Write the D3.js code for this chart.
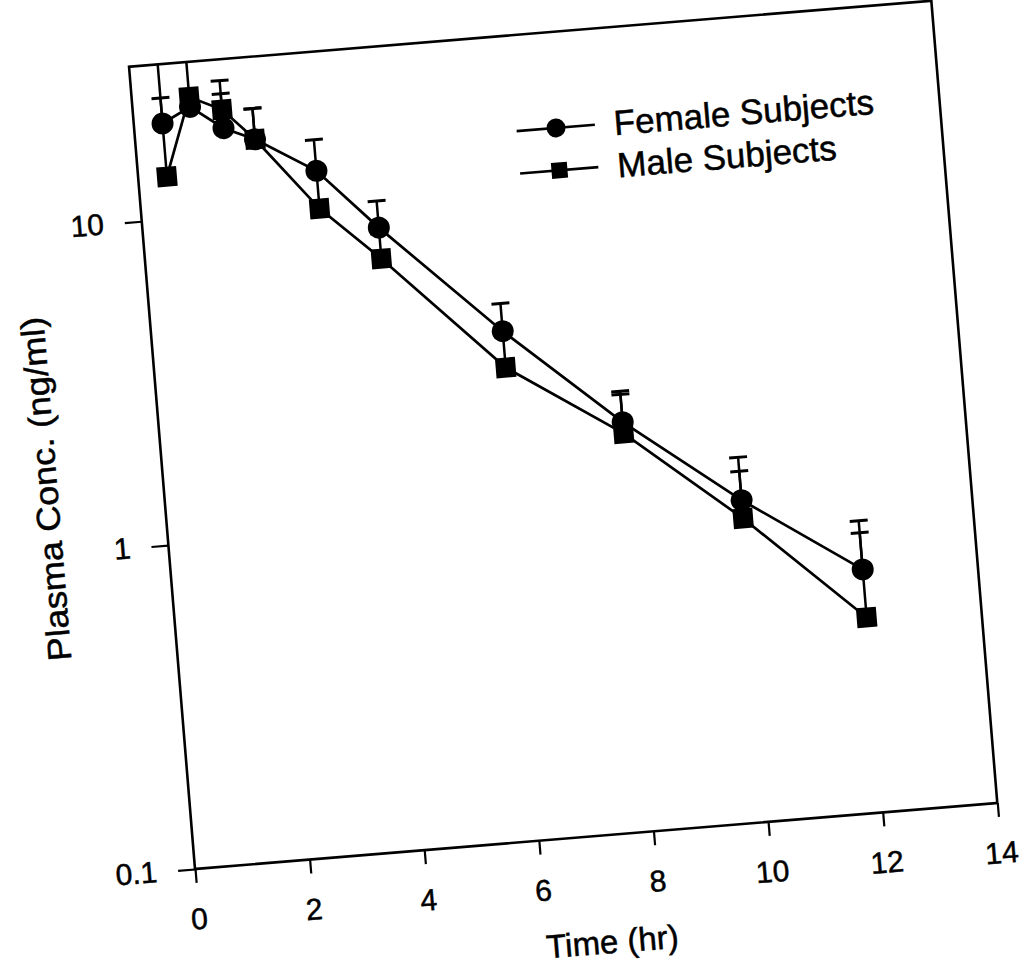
<!DOCTYPE html>
<html>
<head>
<meta charset="utf-8">
<script src="https://cdn.jsdelivr.net/npm/d3@7/dist/d3.min.js"></script>
<style>
  html, body { margin: 0; padding: 0; background: #fff; }
  svg { display: block; }
  text { font-family: "Liberation Sans", Arial, Helvetica, sans-serif; fill: #000; stroke: #000; stroke-width: 0.5px; }
</style>
</head>
<body>
<svg id="chart" width="1029" height="972"></svg>
<script>
// ---- data ----
const times       = [0.5, 1, 1.55, 2.08, 3.1, 4.1, 6.1, 8.05, 10, 12];
const female      = [19.7, 21.8, 18.4, 16.7, 12.9, 8.33, 3.73, 1.83, 0.985, 0.563];
const femaleUpper = [23.6, 23.4, 23.5, 20.8, 16.1, 10.07, 4.54, 2.28, 1.335, 0.795];
const male        = [13.5, 23.4, 21.0, 16.7, 9.86, 6.68, 2.88, 1.69, 0.865, 0.40];
const maleUpper   = [40, 40, 25.8, 20.8, 12.5, 8.0, 3.6, 2.23, 1.21, 0.73];
const xTicks      = [0, 2, 4, 6, 8, 10, 12, 14];
const yTicks      = [0.1, 1, 10];
const yTickLabels = ["0.1", "1", "10"];
const seriesNames = ["Female Subjects", "Male Subjects"];

// ---- layout ----
const W = 805, H = 805;
const svg = d3.select("#chart");
svg.append("rect").attr("width", 1029).attr("height", 972).attr("fill", "#fff");

const g = svg.append("g")
  .attr("transform", "translate(195,869) rotate(-4.7) translate(0,-805)");

const x = d3.scaleLinear().domain([0, 14]).range([0, W]);
const y = d3.scaleLog().domain([0.1, 30]).range([H, 0]);

g.append("clipPath").attr("id", "plotclip")
  .append("rect").attr("x", 0).attr("y", 0).attr("width", W).attr("height", H);

// axes
const xAxis = g.append("g").attr("transform", `translate(0,${H})`)
  .call(d3.axisBottom(x).tickValues(xTicks).tickSize(14).tickPadding(25).tickFormat(d3.format("d")));
const yAxis = g.append("g")
  .call(d3.axisLeft(y).tickValues(yTicks).tickSize(17).tickPadding(21)
        .tickFormat((d, i) => yTickLabels[i]));
[xAxis, yAxis].forEach(a => {
  a.select(".domain").remove();
  a.selectAll(".tick line").attr("stroke", "#000").attr("stroke-width", 2.2);
  a.selectAll(".tick text").style("font-size", "30px")
    .style("font-family", '"Liberation Sans", Arial, sans-serif').attr("fill", "#000");
});

// frame
g.append("rect").attr("x", 0).attr("y", 0).attr("width", W).attr("height", H)
  .attr("fill", "none").attr("stroke", "#000").attr("stroke-width", 2.6);

// axis titles
g.append("text").attr("x", 410).attr("y", H + 118).attr("text-anchor", "middle")
  .style("font-size", "33px").text("Time (hr)");
g.append("text").attr("transform", `translate(-106,${H - 391}) rotate(-90)`)
  .attr("text-anchor", "middle").style("font-size", "33px")
  .attr("textLength", 345).attr("lengthAdjust", "spacingAndGlyphs")
  .text("Plasma Conc. (ng/ml)");

const plot = g.append("g");
const errG = plot.append("g").attr("clip-path", "url(#plotclip)");
const capW = 9;

function errorBars(vals, uppers) {
  times.forEach((t, i) => {
    const cx = x(t), y0 = y(vals[i]), y1 = y(uppers[i]);
    errG.append("line").attr("x1", cx).attr("x2", cx).attr("y1", y0).attr("y2", y1)
      .attr("stroke", "#000").attr("stroke-width", 2.5);
    errG.append("line").attr("x1", cx - capW).attr("x2", cx + capW).attr("y1", y1).attr("y2", y1)
      .attr("stroke", "#000").attr("stroke-width", 3);
  });
}
errorBars(female, femaleUpper);
errorBars(male, maleUpper);

const line = d3.line().x(d => x(d[0])).y(d => y(d[1]));
plot.append("path").datum(times.map((t, i) => [t, female[i]]))
  .attr("d", line).attr("fill", "none").attr("stroke", "#000").attr("stroke-width", 2.7);
plot.append("path").datum(times.map((t, i) => [t, male[i]]))
  .attr("d", line).attr("fill", "none").attr("stroke", "#000").attr("stroke-width", 2.7);

plot.selectAll("rect.m").data(times.map((t, i) => [t, male[i]])).enter()
  .append("rect").attr("class", "m")
  .attr("x", d => x(d[0]) - 10).attr("y", d => y(d[1]) - 10)
  .attr("width", 20).attr("height", 20).attr("fill", "#000");
plot.selectAll("circle.f").data(times.map((t, i) => [t, female[i]])).enter()
  .append("circle").attr("class", "f")
  .attr("cx", d => x(d[0])).attr("cy", d => y(d[1])).attr("r", 11).attr("fill", "#000");

// legend
const legend = g.append("g");
const rows = [96, 138.5];
rows.forEach((ry, i) => {
  legend.append("line").attr("x1", 381).attr("x2", 459.5).attr("y1", ry).attr("y2", ry)
    .attr("stroke", "#000").attr("stroke-width", 2.7);
  if (i === 0) {
    legend.append("circle").attr("cx", 420.5).attr("cy", ry).attr("r", 9.5).attr("fill", "#000");
  } else {
    legend.append("rect").attr("x", 420.5 - 8).attr("y", ry - 8).attr("width", 16).attr("height", 16).attr("fill", "#000");
  }
  legend.append("text").attr("x", 478.5).attr("y", ry + 12).style("font-size", "35px").text(seriesNames[i]);
});
</script>
</body>
</html>
